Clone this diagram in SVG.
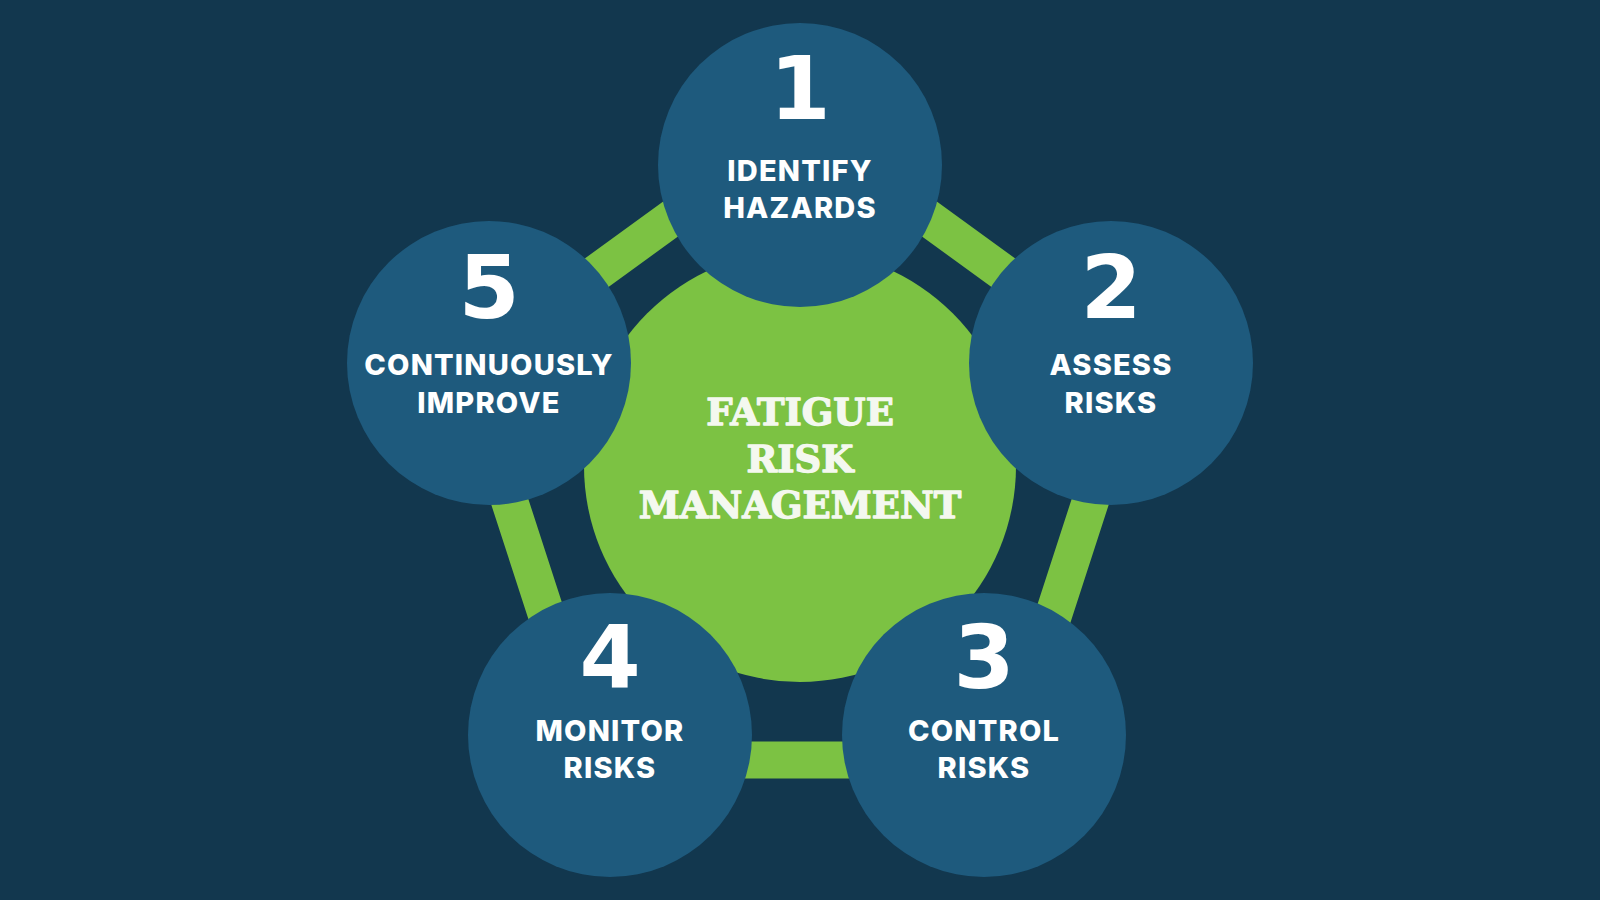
<svg xmlns="http://www.w3.org/2000/svg" width="1600" height="900" viewBox="0 0 1600 900">
  <style>
    .bg { fill: #12374e; }
    .ring { fill: none; stroke: #7cc243; stroke-width: 37; stroke-linejoin: miter; }
    .hub { fill: #7cc243; }
    .step { fill: #1e5a7d; }
    .num { font-family: "DejaVu Sans", "Liberation Sans", sans-serif; font-weight: bold; font-size: 88px; fill: #ffffff; text-anchor: middle; }
    .lbl { font-family: Inter, "Open Sans", "Liberation Sans", sans-serif; font-weight: 800; font-size: 29px; letter-spacing: 1.2px; fill: #ffffff; text-anchor: middle; }
    .title { font-family: "DejaVu Serif", "Liberation Serif", serif; font-weight: bold; font-size: 37px; fill: #f4f8ef; stroke: #f4f8ef; stroke-width: 1.3px; stroke-linejoin: round; text-anchor: middle; }
  </style>
  <rect class="bg" x="0" y="0" width="1600" height="900"/>
  <g id="connectors">
    <polygon class="ring" points="800,125 1133.8,367.5 1006.4,760 593.6,760 466.2,367.5"/>
  </g>
  <g id="center">
    <circle class="hub" cx="800" cy="466" r="216"/>
    <text class="title" x="800" y="425">FATIGUE</text>
    <text class="title" x="800" y="471.5">RISK</text>
    <text class="title" x="800" y="518">MANAGEMENT</text>
  </g>
  <g id="step1">
    <circle class="step" cx="800" cy="165" r="142"/>
    <text class="num" x="800" y="119">1</text>
    <text class="lbl" x="800" y="181">IDENTIFY</text>
    <text class="lbl" x="800" y="218">HAZARDS</text>
  </g>
  <g id="step2">
    <circle class="step" cx="1111" cy="363" r="142"/>
    <text class="num" x="1111" y="318">2</text>
    <text class="lbl" x="1111" y="375">ASSESS</text>
    <text class="lbl" x="1111" y="413">RISKS</text>
  </g>
  <g id="step3">
    <circle class="step" cx="984" cy="735" r="142"/>
    <text class="num" x="984" y="688">3</text>
    <text class="lbl" x="984" y="741">CONTROL</text>
    <text class="lbl" x="984" y="778">RISKS</text>
  </g>
  <g id="step4">
    <circle class="step" cx="610" cy="735" r="142"/>
    <text class="num" x="610" y="688">4</text>
    <text class="lbl" x="610" y="741">MONITOR</text>
    <text class="lbl" x="610" y="778">RISKS</text>
  </g>
  <g id="step5">
    <circle class="step" cx="489" cy="363" r="142"/>
    <text class="num" x="489" y="318">5</text>
    <text class="lbl" x="489" y="375">CONTINUOUSLY</text>
    <text class="lbl" x="489" y="413">IMPROVE</text>
  </g>
</svg>
